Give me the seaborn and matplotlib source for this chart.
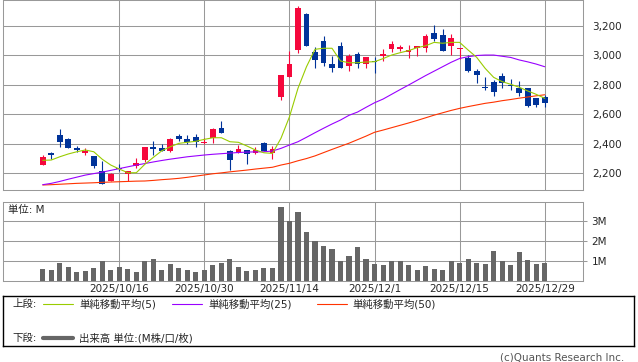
import numpy as np
import pandas as pd
import matplotlib
matplotlib.use("Agg")
import matplotlib.pyplot as plt
from matplotlib.lines import Line2D
import seaborn as sns

# trading days (JP holidays removed)
dates = pd.bdate_range("2025-10-02", "2025-12-29").drop(
    pd.to_datetime(["2025-10-13", "2025-11-03", "2025-11-24"]))
tick_dates = ["2025-10-16", "2025-10-30", "2025-11-14", "2025-12-01", "2025-12-15", "2025-12-29"]

opens = [2256, 2339, 2459, 2430, 2371, 2337, 2317, 2215, 2148, 2238,
         2193, 2251, 2290, 2380, 2369, 2351, 2453, 2432, 2446, 2407,
         2439, 2507, 2351, 2339, 2356, 2339, 2403, 2339, 2719, 2854,
         3035, 3279, 3024, 3096, 2938, 3062, 2929, 3008, 2938, 2961,
         2997, 3042, 3042, 3022, 3047, 3051, 3153, 3139, 3062, 3042,
         2979, 2893, 2785, 2819, 2859, 2800, 2776, 2776, 2710, 2717]
highs = [2324, 2346, 2500, 2439, 2387, 2369, 2317, 2283, 2200, 2263,
         2215, 2304, 2378, 2419, 2398, 2439, 2464, 2457, 2466, 2439,
         2509, 2554, 2358, 2392, 2358, 2376, 2410, 2387, 2866, 3029,
         3334, 3286, 3054, 3132, 2995, 3090, 3008, 3020, 2986, 2986,
         3042, 3096, 3067, 3067, 3062, 3144, 3205, 3178, 3144, 3051,
         3001, 2905, 2852, 2832, 2880, 2839, 2827, 2776, 2710, 2730]
lows = [2256, 2295, 2380, 2370, 2346, 2322, 2238, 2125, 2146, 2218,
        2148, 2234, 2278, 2324, 2353, 2347, 2419, 2398, 2380, 2400,
        2407, 2475, 2222, 2339, 2265, 2330, 2351, 2299, 2699, 2854,
        3017, 3064, 2913, 2929, 2884, 2915, 2895, 2911, 2911, 2877,
        2961, 3020, 3026, 2983, 2995, 3024, 3096, 3031, 3001, 2972,
        2886, 2814, 2764, 2726, 2780, 2762, 2726, 2651, 2651, 2651]
closes = [2313, 2326, 2414, 2373, 2356, 2351, 2251, 2125, 2197, 2227,
          2215, 2270, 2378, 2367, 2353, 2432, 2434, 2414, 2412, 2414,
          2500, 2475, 2292, 2365, 2333, 2358, 2351, 2362, 2866, 2940,
          3320, 3064, 2968, 2949, 2915, 2915, 2997, 2938, 2986, 2952,
          3010, 3076, 3056, 3035, 3062, 3130, 3110, 3031, 3117, 3047,
          2893, 2868, 2778, 2751, 2814, 2791, 2746, 2658, 2663, 2678]
ma5 = [2288, 2290, 2312, 2331, 2346, 2358, 2346, 2295, 2256, 2229,
       2204, 2204, 2261, 2308, 2353, 2380, 2403, 2410, 2417, 2430,
       2441, 2441, 2414, 2410, 2385, 2358, 2339, 2335, 2437, 2583,
       2776, 2922, 3040, 3047, 3047, 2961, 2949, 2949, 2954, 2956,
       2977, 3001, 3017, 3031, 3051, 3064, 3087, 3081, 3087, 3087,
       3035, 2986, 2911, 2850, 2821, 2803, 2783, 2758, 2735, 2708]
ma25 = [2123, 2132, 2145, 2160, 2174, 2188, 2198, 2208, 2220, 2232,
        2244, 2256, 2266, 2277, 2287, 2296, 2304, 2312, 2318, 2324,
        2329, 2333, 2337, 2341, 2344, 2345, 2346, 2351, 2369, 2392,
        2414, 2444, 2475, 2505, 2534, 2561, 2593, 2615, 2647, 2678,
        2703, 2735, 2767, 2798, 2830, 2862, 2892, 2922, 2952, 2978,
        2990, 2998, 3001, 3001, 2993, 2985, 2968, 2955, 2940, 2922]
ma50 = [2121, 2123, 2126, 2129, 2132, 2134, 2136, 2139, 2141, 2143,
        2145, 2147, 2148, 2152, 2157, 2161, 2166, 2173, 2181, 2189,
        2197, 2203, 2210, 2216, 2222, 2229, 2235, 2241, 2256, 2268,
        2285, 2300, 2318, 2340, 2362, 2383, 2404, 2428, 2452, 2478,
        2493, 2509, 2525, 2541, 2558, 2576, 2594, 2610, 2626, 2640,
        2652, 2663, 2674, 2682, 2692, 2700, 2709, 2717, 2725, 2732]
volume_m = [0.58, 0.53, 0.88, 0.68, 0.43, 0.48, 0.63, 0.98, 0.53, 0.68,
            0.60, 0.45, 1.00, 1.10, 0.55, 0.85, 0.65, 0.55, 0.45, 0.55,
            0.80, 0.90, 1.10, 0.70, 0.50, 0.55, 0.65, 0.65, 3.67, 3.00,
            3.43, 2.43, 1.98, 1.73, 1.58, 0.98, 1.23, 1.67, 1.08, 0.83,
            0.78, 0.98, 0.98, 0.78, 0.55, 0.75, 0.60, 0.55, 1.00, 0.90,
            1.10, 0.90, 0.85, 1.50, 1.00, 0.77, 1.43, 1.02, 0.83, 0.88]
price_ticks = [2200, 2400, 2600, 2800, 3000, 3200]
vol_ticks = [1, 2, 3]

df = pd.DataFrame({"date": dates, "open": opens, "high": highs, "low": lows,
                   "close": closes, "ma5": ma5, "ma25": ma25, "ma50": ma50,
                   "volume": volume_m})
df["i"] = np.arange(len(df))

UP, DOWN = "#F5083C", "#003399"
C5, C25, C50 = "#99CC00", "#9900FF", "#FF3300"
GRID = "#999999"

sns.set_style("white")
plt.rcParams["font.family"] = ["DejaVu Sans", "Noto Sans CJK JP"]
plt.rcParams["font.size"] = 7.5

W, H = 638, 362
fig = plt.figure(figsize=(W / 100, H / 100), dpi=100)


def box(x0, y0, x1, y1):
    return [x0 / W, 1 - y1 / H, (x1 - x0) / W, (y1 - y0) / H]


ax = fig.add_axes(box(3, 0, 583, 190))
axv = fig.add_axes(box(3, 202, 583, 280.7), sharex=ax)
axl = fig.add_axes(box(3.3, 296, 634.3, 346))

# candles
up = df["close"] >= df["open"]
cols = np.where(up, UP, DOWN)
ax.vlines(df["i"], df["low"], df["high"], colors=cols, lw=0.8, zorder=2)
body = (df["close"] - df["open"]).abs().clip(lower=8)
ax.bar(df["i"], body, bottom=np.minimum(df["open"], df["close"]), width=0.68,
       color=cols, linewidth=0, zorder=3)

for col, c in [("ma50", C50), ("ma25", C25), ("ma5", C5)]:
    sns.lineplot(data=df, x="i", y=col, ax=ax, color=c, lw=0.8, legend=False, zorder=4)

tick_idx = [int(np.where(df["date"] == pd.Timestamp(d))[0][0]) for d in tick_dates]
tick_lbl = [f"{d.year}/{d.month}/{d.day}" for d in df["date"].iloc[tick_idx]]

ax.set_xlim(-4.67, 63.5)
ax.set_ylim(2087, 3374)
ax.set_yticks(price_ticks)
ax.set_yticklabels([f"{v:,}" for v in price_ticks])
ax.yaxis.tick_right()
ax.set_xticks(tick_idx)
ax.tick_params(axis="x", labelbottom=False, length=0)
ax.tick_params(axis="y", length=0, pad=6.5, labelsize=7.5)
ax.set_xlabel("")
ax.set_ylabel("")

# volume
axv.bar(df["i"], df["volume"], width=0.6, color="#666666", linewidth=0, zorder=3)
axv.set_ylim(0, 3.935)
axv.set_yticks(vol_ticks)
axv.set_yticklabels([f"{v}M" for v in vol_ticks])
axv.yaxis.tick_right()
axv.set_xticks(tick_idx)
axv.set_xticklabels(tick_lbl)
axv.tick_params(axis="x", length=0, pad=2.5, labelsize=7.5)
axv.tick_params(axis="y", length=3, width=0.75, color=GRID, pad=3, labelsize=7.5)

for a in (ax, axv):
    a.set_axisbelow(True)
    a.grid(True, color=GRID, lw=0.75)
    for s in a.spines.values():
        s.set_color(GRID)
        s.set_linewidth(0.75)

fig.text(8.3 / W, 1 - 209.5 / H, "単位: M", ha="left", va="center", fontsize=7.5)

# legend box
axl.set_xticks([])
axl.set_yticks([])
for s in axl.spines.values():
    s.set_color("black")
    s.set_linewidth(1)


def px(x, y):
    return x / W, 1 - y / H


def legend_line(x0, x1, y, color, lw):
    (a, b), (c, d) = px(x0, y), px(x1, y)
    fig.add_artist(Line2D([a, c], [b, d], transform=fig.transFigure, color=color, lw=lw))


y1, y2 = 304, 338
fig.text(*px(12, y1), "上段:", va="center", fontsize=7.5)
legend_line(43, 73, y1, C5, 0.8)
fig.text(*px(79, y1), "単純移動平均(5)", va="center", fontsize=7.5)
legend_line(172, 202, y1, C25, 0.8)
fig.text(*px(208, y1), "単純移動平均(25)", va="center", fontsize=7.5)
legend_line(317, 347, y1, C50, 0.8)
fig.text(*px(352, y1), "単純移動平均(50)", va="center", fontsize=7.5)
fig.text(*px(12, y2), "下段:", va="center", fontsize=7.5)
legend_line(43, 73, y2, "#666666", 3)
fig.text(*px(79, y2), "出来高 単位:(M株/口/枚)", va="center", fontsize=7.5)

fig.text(*px(624, 358), "(c)Quants Research Inc.", ha="right", va="center",
         fontsize=7.5, color="#555555")

fig.savefig("out.png", dpi=100)
